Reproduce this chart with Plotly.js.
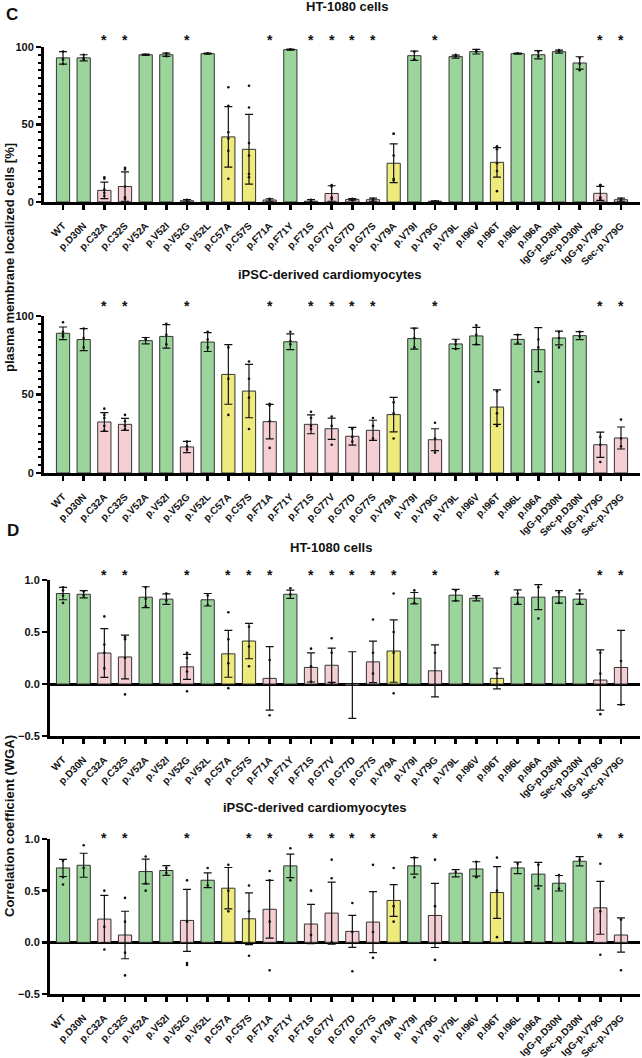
<!DOCTYPE html>
<html>
<head>
<meta charset="utf-8">
<script src="https://cdn.plot.ly/plotly-3.0.1.min.js"></script>
<style>
  html, body { margin: 0; padding: 0; background: #fff; }
  #chart { width: 642px; height: 1058px; }
</style>
</head>
<body>
<div id="chart"></div>
<script>
const VARIANTS = [
  'WT', 'p.D30N', 'p.C32A', 'p.C32S', 'p.V52A', 'p.V52I', 'p.V52G', 'p.V52L',
  'p.C57A', 'p.C57S', 'p.F71A', 'p.F71Y', 'p.F71S', 'p.G77V', 'p.G77D', 'p.G77S',
  'p.V79A', 'p.V79I', 'p.V79G', 'p.V79L', 'p.I96V', 'p.I96T', 'p.I96L', 'p.I96A',
  'IgG-p.D30N', 'Sec-p.D30N', 'IgG-p.V79G', 'Sec-p.V79G',
];
// g = normal, y = intermediate, p = impaired
const GROUPS = [
  'g', 'g', 'p', 'p', 'g', 'g', 'p', 'g',
  'y', 'y', 'p', 'g', 'p', 'p', 'p', 'p',
  'y', 'g', 'p', 'g', 'g', 'y', 'g', 'g',
  'g', 'g', 'p', 'p',
];
const GROUP_COLORS = { g: '#9bd59b', y: '#eeea7c', p: '#f5ced4' };

// C: plasma membrane localized cells [%], HT-1080
const htMemMean = [93, 93, 7.5, 10, 95, 95, 0.8, 95.7, 42, 34, 1.3, 98.3, 0.5, 5.5,
  1.7, 1.5, 25, 94.4, 0.5, 93.8, 97, 25.6, 95.7, 95, 97, 89.7, 5.6, 1.5];
const htMemSd = [4, 2, 5.3, 9.5, 0.4, 1, 0.8, 0.3, 19.5, 22.5, 0.8, 0.3, 1, 5,
  0.5, 1, 12.5, 3, 0.3, 1, 1.5, 9.5, 0.3, 2.6, 1, 4, 4.5, 1];
const htMemPts = [
  [97, 92, 89], [95, 92, 93], [16, 15, 6, 4, 8], [22, 21, 2, 3, 10], [95], [96, 94],
  [1, 1.5], [96], [74, 62, 45, 33, 15, 41], [75, 61, 38, 18, 16, 30], [2, 1.5], [98.5],
  [1.5, 0.5], [10, 11, 2, 3], [1, 2], [2, 1], [44, 44, 30, 14, 15], [97, 92], [0.5],
  [94, 95], [98, 97], [36, 34, 25, 7, 20], [96], [97, 94], [97, 98], [93, 89, 85],
  [11, 11, 2, 3], [2, 1],
];
const htMemStars = ['p.C32A', 'p.C32S', 'p.V52G', 'p.F71A', 'p.F71S', 'p.G77V',
  'p.G77D', 'p.G77S', 'p.V79G', 'IgG-p.V79G', 'Sec-p.V79G'];

// C: plasma membrane localized cells [%], iPSC-CM
const cmMemMean = [89, 85, 32.5, 31, 84.3, 87, 16.6, 83.4, 62.8, 52.2, 32.7, 83.6, 31,
  28.2, 23.4, 27.2, 37.2, 85.6, 21.2, 82.2, 87.3, 42, 85.1, 78.6, 86, 87.5, 18, 22.3];
const cmMemSd = [4, 7, 6, 3.8, 2, 7.5, 3.6, 6, 19, 17, 11, 5, 6, 6.8, 5.6, 6.4, 11,
  6.7, 7, 3, 5.5, 11, 3, 14, 4.4, 2.5, 8, 7];
const cmMemPts = [
  [96, 90, 87, 88], [92, 80, 86], [41, 37, 35, 27, 30], [37, 33, 30, 28], [85, 86],
  [95, 82, 88], [20, 15, 17], [90, 80, 85], [80, 60, 37], [71, 60, 48, 28],
  [44, 43, 16, 33], [90, 82, 84], [39, 35, 28, 30], [36, 18, 30], [28, 20, 23],
  [35, 30, 22], [45, 22, 38], [92, 80, 86], [32, 13, 22], [84, 79, 82], [94, 82, 88],
  [52, 30, 38], [88, 83], [85, 58, 80], [90, 80, 86], [90, 87], [23, 7, 18], [34, 22, 17],
];
const cmMemStars = ['p.C32A', 'p.C32S', 'p.V52G', 'p.F71A', 'p.F71S', 'p.G77V',
  'p.G77D', 'p.G77S', 'p.V79G', 'IgG-p.V79G', 'Sec-p.V79G'];

// D: correlation coefficient (WGA), HT-1080
const htCorMean = [0.87, 0.863, 0.298, 0.26, 0.835, 0.816, 0.165, 0.81, 0.29, 0.413,
  0.054, 0.863, 0.159, 0.18, -0.01, 0.213, 0.317, 0.825, 0.127, 0.854, 0.825, 0.054,
  0.835, 0.835, 0.838, 0.816, 0.038, 0.159];
const htCorSd = [0.06, 0.035, 0.235, 0.21, 0.1, 0.05, 0.12, 0.06, 0.225, 0.17, 0.305,
  0.04, 0.14, 0.165, 0.32, 0.2, 0.3, 0.055, 0.25, 0.055, 0.025, 0.1, 0.07, 0.12, 0.06,
  0.05, 0.29, 0.357];
const htCorPts = [
  [0.93, 0.9, 0.78, 0.85], [0.89, 0.85], [0.65, 0.15, 0.3, 0.38], [0.45, 0.43, 0.25, -0.1],
  [0.93, 0.75, 0.82], [0.87, 0.8], [0.3, 0.25, 0.12, -0.07], [0.85, 0.76],
  [0.69, 0.43, 0.2, -0.04], [0.55, 0.36, 0.17], [0.23, -0.3], [0.92, 0.86],
  [0.34, 0.17, 0.02], [0.44, 0.3, 0.01], [0.0], [0.62, 0.3, 0.1], [0.87, 0.5, 0.3, -0.09],
  [0.9, 0.78], [0.3], [0.9, 0.8], [0.84], [0.1], [0.87, 0.78], [0.93, 0.63], [0.88, 0.78],
  [0.9, 0.78], [0.3, 0.1, -0.29], [0.22, -0.2],
];
const htCorStars = ['p.C32A', 'p.C32S', 'p.V52G', 'p.C57A', 'p.C57S', 'p.F71A', 'p.F71S',
  'p.G77V', 'p.G77D', 'p.G77S', 'p.V79A', 'p.V79G', 'p.I96T', 'IgG-p.V79G', 'Sec-p.V79G'];

// D: correlation coefficient (WGA), iPSC-CM
const cmCorMean = [0.72, 0.746, 0.225, 0.071, 0.685, 0.695, 0.212, 0.601, 0.524, 0.228,
  0.32, 0.74, 0.177, 0.283, 0.106, 0.196, 0.405, 0.74, 0.26, 0.669, 0.71, 0.482, 0.72,
  0.66, 0.572, 0.785, 0.334, 0.071];
const cmCorSd = [0.083, 0.116, 0.23, 0.23, 0.12, 0.047, 0.3, 0.072, 0.2, 0.25, 0.28,
  0.114, 0.19, 0.3, 0.155, 0.295, 0.153, 0.08, 0.31, 0.035, 0.07, 0.25, 0.056, 0.114,
  0.075, 0.045, 0.256, 0.165];
const cmCorPts = [
  [0.79, 0.63, 0.56], [0.94, 0.72], [0.5, 0.15, -0.07], [0.43, 0.2, -0.1, -0.32],
  [0.83, 0.57, 0.5], [0.72, 0.67], [0.6, 0.2, -0.2, -0.22], [0.72, 0.55], [0.75, 0.5, 0.3],
  [0.55, 0.3, -0.13], [0.69, 0.6, 0.2, -0.27], [0.91, 0.6], [0.5, 0.07], [0.8, 0.62, 0.0],
  [0.38, 0.1, -0.28], [0.75, 0.1, -0.15], [0.72, 0.35, 0.2], [0.82, 0.63], [0.8, 0.35, -0.17],
  [0.68], [0.78, 0.63], [0.82, 0.5, 0.05], [0.76], [0.52, 0.75], [0.65, 0.52], [0.8],
  [0.76, 0.3, -0.12], [0.22, -0.27],
];
const cmCorStars = ['p.C32A', 'p.C32S', 'p.V52G', 'p.C57S', 'p.F71A', 'p.F71S', 'p.G77V',
  'p.G77D', 'p.G77S', 'p.V79G', 'IgG-p.V79G', 'Sec-p.V79G'];

const W = 642;
const H = 1058;
const FONT = 'Arial, "Liberation Sans", sans-serif';
const py = (pix) => 1 - pix / H;

function panelTraces(means, sds, pts, n) {
  const xa = n === 1 ? 'x' : `x${n}`;
  const ya = n === 1 ? 'y' : `y${n}`;
  const bar = {
    type: 'bar',
    x: VARIANTS,
    y: means,
    width: 0.64,
    xaxis: xa,
    yaxis: ya,
    marker: {
      color: GROUPS.map(g => GROUP_COLORS[g]),
      line: { color: '#333', width: 1 },
    },
    error_y: {
      type: 'data',
      array: sds,
      visible: true,
      color: '#111',
      thickness: 1.2,
      width: 4,
    },
    hoverinfo: 'none',
  };
  const dx = [];
  const dy = [];
  pts.forEach((list, i) => {
    list.forEach(v => {
      dx.push(VARIANTS[i]);
      dy.push(v);
    });
  });
  const dots = {
    type: 'scatter',
    mode: 'markers',
    x: dx,
    y: dy,
    xaxis: xa,
    yaxis: ya,
    marker: { size: 2.6, color: '#111' },
    cliponaxis: false,
    hoverinfo: 'none',
  };
  return [bar, dots];
}

function xAxis(domainLeft, range, anchor) {
  return {
    type: 'category',
    domain: [domainLeft / W, 640 / W],
    range,
    anchor,
    showline: true,
    linecolor: '#000',
    linewidth: 3,
    ticks: 'outside',
    ticklen: 5,
    tickwidth: 2.5,
    tickcolor: '#000',
    tickangle: -45,
    ticklabelstandoff: 6,
    tickfont: { family: FONT, size: 10, weight: 'bold', color: '#111' },
    showgrid: false,
    zeroline: false,
    fixedrange: true,
  };
}

function yAxis(top, bottom, range, dtick, anchor, minor) {
  const ax = {
    domain: [py(bottom), py(top)],
    range,
    anchor,
    dtick,
    showline: true,
    linecolor: '#000',
    linewidth: 3,
    ticks: 'outside',
    ticklen: 5,
    tickwidth: 2.5,
    tickcolor: '#000',
    tickfont: { family: FONT, size: 11, weight: 'bold', color: '#111' },
    showgrid: false,
    zeroline: false,
    fixedrange: true,
  };
  if (minor) {
    ax.minor = { ticks: 'outside', dtick: minor, ticklen: 3, tickwidth: 2, tickcolor: '#000' };
  }
  return ax;
}

function starNotes(stars, xref, pix) {
  return stars.map(name => ({
    x: name,
    xref,
    y: py(pix),
    yref: 'paper',
    text: '*',
    showarrow: false,
    yanchor: 'middle',
    yshift: -3,
    font: { family: FONT, size: 14, weight: 'bold', color: '#111' },
  }));
}

function textNote(text, x, y, size, angle) {
  return {
    x: x / W,
    y: py(y),
    xref: 'paper',
    yref: 'paper',
    text,
    showarrow: false,
    xanchor: 'center',
    yanchor: 'middle',
    textangle: angle || 0,
    font: { family: FONT, size, weight: 'bold', color: '#111' },
  };
}

const data = [
  ...panelTraces(htMemMean, htMemSd, htMemPts, 1),
  ...panelTraces(cmMemMean, cmMemSd, cmMemPts, 2),
  ...panelTraces(htCorMean, htCorSd, htCorPts, 3),
  ...panelTraces(cmCorMean, cmCorSd, cmCorPts, 4),
];

const cRange = [-0.92, 27.92];
const dRange = [-0.63, 27.92];

const layout = {
  width: W,
  height: H,
  margin: { l: 0, r: 0, t: 0, b: 0 },
  paper_bgcolor: '#fff',
  plot_bgcolor: 'rgba(0,0,0,0)',
  showlegend: false,
  bargap: 0.3,
  xaxis: xAxis(44, cRange, 'y'),
  yaxis: yAxis(47, 202, [0, 100], 50, 'x', 5),
  xaxis2: xAxis(44, cRange, 'y2'),
  yaxis2: yAxis(316, 473, [0, 100], 50, 'x2', 5),
  xaxis3: xAxis(50, dRange, 'y3'),
  yaxis3: { ...yAxis(580, 736, [-0.5, 1.0], 0.5, 'x3'), tickformat: '.1f',
    zeroline: true, zerolinecolor: '#000', zerolinewidth: 3 },
  xaxis4: xAxis(50, dRange, 'y4'),
  yaxis4: { ...yAxis(839, 994, [-0.5, 1.0], 0.5, 'x4'), tickformat: '.1f',
    zeroline: true, zerolinecolor: '#000', zerolinewidth: 3 },
  annotations: [
    textNote('C', 12, 14, 17),
    textNote('D', 13, 530, 17),
    textNote('HT-1080 cells', 347, 7, 13),
    textNote('iPSC-derived cardiomyocytes', 330, 274, 13),
    textNote('HT-1080 cells', 331, 547, 13),
    textNote('iPSC-derived cardiomyocytes', 315, 807, 13),
    textNote('plasma membrane localized cells [%]', 9, 258, 13, -90),
    textNote('Correlation coefficient (WGA)', 9, 826, 13, -90),
    ...starNotes(htMemStars, 'x', 37),
    ...starNotes(cmMemStars, 'x2', 303),
    ...starNotes(htCorStars, 'x3', 572),
    ...starNotes(cmCorStars, 'x4', 835),
  ],
};

Plotly.newPlot('chart', data, layout, { displayModeBar: false, staticPlot: true });
</script>
</body>
</html>
